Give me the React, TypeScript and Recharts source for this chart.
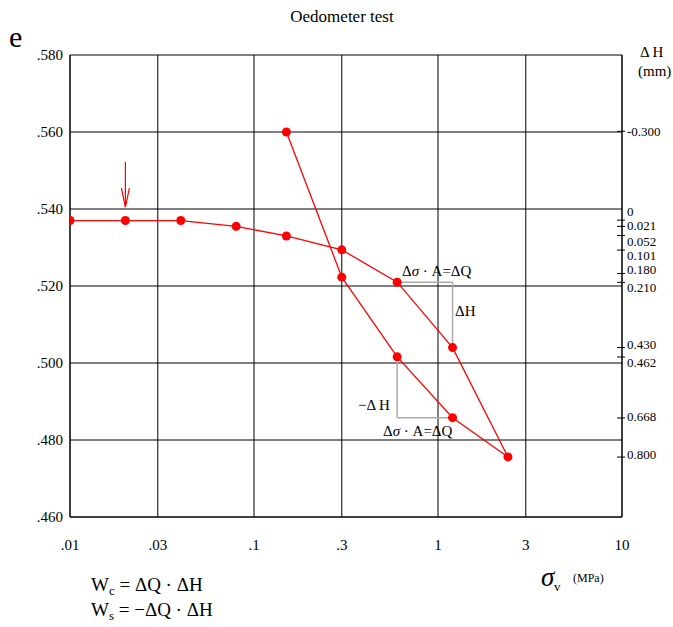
import React from "react";
import {
  ComposedChart,
  Line,
  XAxis,
  YAxis,
  CartesianGrid,
  ReferenceLine,
} from "recharts";

// load path: loading from .01 up to 2.4 MPa, then unloading back to .15
const sigmaV = [0.01, 0.02, 0.04, 0.08, 0.15, 0.3, 0.6, 1.2, 2.4, 1.2, 0.6, 0.3, 0.15];
const voidRatio = [0.537, 0.537, 0.537, 0.5355, 0.533, 0.5294, 0.521, 0.504, 0.4756, 0.4858, 0.5016, 0.5223, 0.56];

const xTicks = [0.01, 0.03, 0.1, 0.3, 1, 3, 10];
const xTickLabels = [".01", ".03", ".1", ".3", "1", "3", "10"];
const eTicks = [0.46, 0.48, 0.5, 0.52, 0.54, 0.56, 0.58];
const eTickLabels = [".460", ".480", ".500", ".520", ".540", ".560", ".580"];
const dhTicks = [-0.3, 0, 0.021, 0.052, 0.101, 0.18, 0.21, 0.43, 0.462, 0.668, 0.8];
const dhTickLabels = ["-0.300", "0", "0.021", "0.052", "0.101", "0.180", "0.210", "0.430", "0.462", "0.668", "0.800"];

// work boxes (compression / swelling)
const boxC = [{ x: 0.6, y: 0.521 }, { x: 1.2, y: 0.521 }, { x: 1.2, y: 0.504 }];
const boxS = [{ x: 0.6, y: 0.5016 }, { x: 0.6, y: 0.4858 }, { x: 1.2, y: 0.4858 }];
const arrowFrom = { x: 0.02, y: 0.5522 };
const arrowTo = { x: 0.02, y: 0.5405 };

const curve = sigmaV.map((s, i) => ({ x: s, e: voidRatio[i] }));

const FONT = "'Liberation Serif', 'Times New Roman', serif";
const RED = "#ff0000";

// dH axis: linear in e, 0 at e0, scale k mm per unit e
const E0 = 0.5371;
const K = 13.0;
const dhDomain = [(E0 - 0.58) * K, (E0 - 0.46) * K];

const XTick = (props: any) => {
  const { x, y, payload } = props;
  const i = xTicks.indexOf(payload.value);
  return (
    <text x={x} y={y + 33} textAnchor="middle" fontSize={15} fontFamily={FONT} fill="#000">
      {xTickLabels[i]}
    </text>
  );
};

const ETick = (props: any) => {
  const { x, y, payload } = props;
  const i = eTicks.findIndex((t) => Math.abs(t - payload.value) < 1e-6);
  return (
    <text x={x - 7} y={y + 5} textAnchor="end" fontSize={15} fontFamily={FONT} fill="#000">
      {eTickLabels[i]}
    </text>
  );
};

// labels that sit close together get nudged apart a bit
const dhNudge: Record<string, number> = {
  "0": -9, "0.021": -1, "0.052": 5, "0.101": 5, "0.180": -4, "0.210": 5, "0.430": -4, "0.462": 5, "0.668": -2, "0.800": -3,
};

const DhTick = (props: any) => {
  const { x, y, payload } = props;
  const i = dhTicks.findIndex((t) => Math.abs(t - payload.value) < 1e-6);
  const label = dhTickLabels[i];
  return (
    <g>
      <line x1={x - 5} y1={y} x2={x + 3} y2={y} stroke="#000" strokeWidth={1} />
      <text x={x + 5} y={y + 5 + (dhNudge[label] || 0)} fontSize={13} fontFamily={FONT} fill="#000">
        {label}
      </text>
    </g>
  );
};

const ArrowShape = (props: any) => {
  const { x1, y1, x2, y2 } = props;
  return (
    <g stroke={RED} strokeWidth={1.2} fill="none">
      <line x1={x1} y1={y1} x2={x2} y2={y2} />
      <path d={`M ${x2 - 4} ${y2 - 19} L ${x2} ${y2} L ${x2 + 4} ${y2 - 19}`} />
    </g>
  );
};

export default function App() {
  return (
    <div style={{ position: "absolute", left: 0, top: 0, width: 673, height: 627, background: "#fff" }}>
      <ComposedChart
        width={673}
        height={627}
        data={curve}
        margin={{ top: 55, right: 0, left: 10, bottom: 80 }}
      >
        <CartesianGrid yAxisId="e" stroke="#000" strokeWidth={1} />
        <XAxis
          dataKey="x"
          type="number"
          scale="log"
          domain={[0.01, 10]}
          ticks={xTicks}
          allowDataOverflow
          height={30}
          tickSize={0}
          tickMargin={0}
          tickLine={false}
          axisLine={{ stroke: "#000" }}
          tick={<XTick />}
          interval={0}
        />
        <YAxis
          yAxisId="e"
          type="number"
          domain={[0.46, 0.58]}
          ticks={eTicks}
          allowDataOverflow
          width={60}
          tickSize={0}
          tickMargin={0}
          tickLine={false}
          axisLine={{ stroke: "#000" }}
          tick={<ETick />}
          interval={0}
        />
        <YAxis
          yAxisId="dh"
          orientation="right"
          type="number"
          domain={dhDomain}
          reversed
          ticks={dhTicks}
          allowDataOverflow
          width={51}
          tickSize={0}
          tickMargin={0}
          tickLine={false}
          axisLine={{ stroke: "#000" }}
          tick={<DhTick />}
          interval={0}
        />
        <ReferenceLine yAxisId="e" segment={[boxC[0], boxC[1]]} stroke="#aaa" strokeWidth={1.5} />
        <ReferenceLine yAxisId="e" segment={[boxC[1], boxC[2]]} stroke="#aaa" strokeWidth={1.5} />
        <ReferenceLine yAxisId="e" segment={[boxS[0], boxS[1]]} stroke="#aaa" strokeWidth={1.5} />
        <ReferenceLine yAxisId="e" segment={[boxS[1], boxS[2]]} stroke="#aaa" strokeWidth={1.5} />
        <ReferenceLine yAxisId="e" segment={[arrowFrom, arrowTo]} shape={<ArrowShape />} />
        <Line
          yAxisId="e"
          dataKey="e"
          type="linear"
          stroke={RED}
          strokeWidth={1.3}
          dot={{ r: 4.5, fill: RED, stroke: "none" }}
          activeDot={false}
          isAnimationActive={false}
        />
      </ComposedChart>

      <svg
        width={673}
        height={627}
        style={{ position: "absolute", left: 0, top: 0, pointerEvents: "none" }}
        fontFamily={FONT}
        fill="#000"
      >
        <text x={342} y={22} textAnchor="middle" fontSize={17}>Oedometer test</text>
        <text x={9} y={47} fontSize={30}>e</text>
        <text x={640} y={57} fontSize={15}>Δ H</text>
        <text x={638} y={76} fontSize={15}>(mm)</text>

        <text x={402} y={276} fontSize={15}>Δ<tspan fontStyle="italic">σ</tspan> · A=ΔQ</text>
        <text x={455} y={316} fontSize={15}>ΔH</text>
        <text x={358} y={410} fontSize={15}>−Δ H</text>
        <text x={383} y={436} fontSize={15}>Δ<tspan fontStyle="italic">σ</tspan> · A=ΔQ</text>

        <text x={541} y={586} fontSize={27} fontStyle="italic">σ</text>
        <text x={554} y={591} fontSize={13}>v</text>
        <text x={573} y={582} fontSize={12}>(MPa)</text>

        <text x={91} y={591} fontSize={19}>
          W<tspan fontSize={13} dy={4}>c</tspan><tspan dy={-4}> = ΔQ · ΔH</tspan>
        </text>
        <text x={91} y={616} fontSize={19}>
          W<tspan fontSize={13} dy={4}>s</tspan><tspan dy={-4}> = −ΔQ · ΔH</tspan>
        </text>
      </svg>
    </div>
  );
}
